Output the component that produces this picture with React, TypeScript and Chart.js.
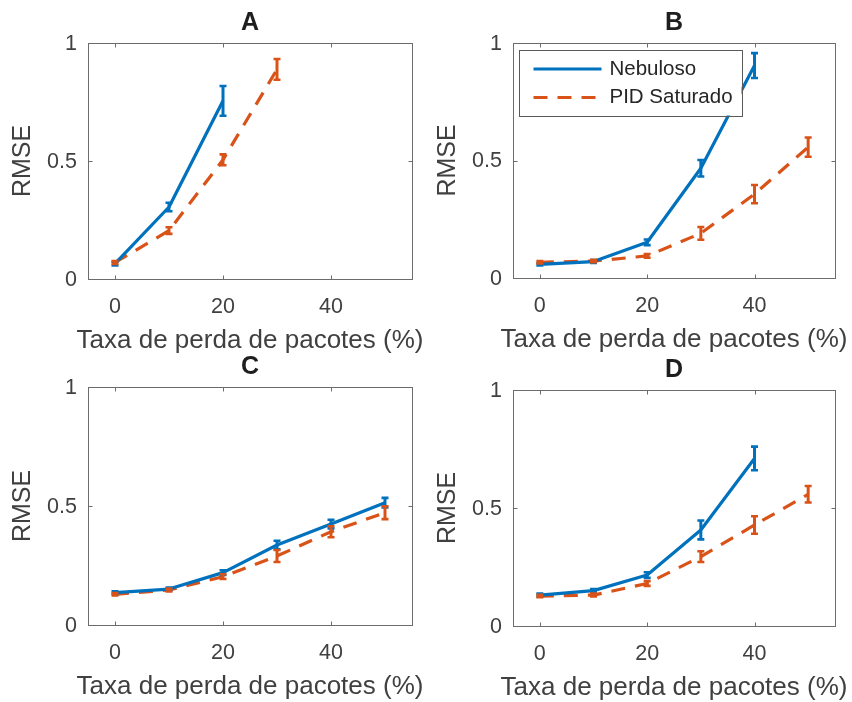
import React, { useEffect, useRef } from 'react';
import { Chart, registerables } from 'chart.js';

Chart.register(...registerables);

// Packet-loss rates (%) on the horizontal axis
const lossRates = [0, 10, 20, 30, 40, 50];
const xTicks = [0, 20, 40];
const xTickLabels = ['0', '20', '40'];
const yTicks = [0, 0.5, 1];
const yTickLabels = ['0', '0.5', '1'];
const seriesNames = ['Nebuloso', 'PID Saturado'];
const panelTitles = ['A', 'B', 'C', 'D'];

// Panel A
const fuzzyA = [0.065, 0.305, 0.755];
const fuzzyErrA = [0.008, 0.018, 0.063];
const pidA = [0.07, 0.205, 0.505, 0.888];
const pidErrA = [0.006, 0.014, 0.023, 0.044];

// Panel B
const fuzzyB = [0.058, 0.07, 0.152, 0.467, 0.904];
const fuzzyErrB = [0.005, 0.006, 0.012, 0.035, 0.053];
const pidB = [0.067, 0.072, 0.094, 0.19, 0.357, 0.557];
const pidErrB = [0.005, 0.005, 0.008, 0.027, 0.039, 0.041];

// Panel C
const fuzzyC = [0.136, 0.151, 0.22, 0.336, 0.424, 0.514];
const fuzzyErrC = [0.006, 0.006, 0.01, 0.018, 0.018, 0.02];
const pidC = [0.129, 0.147, 0.203, 0.29, 0.392, 0.472];
const pidErrC = [0.005, 0.006, 0.01, 0.025, 0.023, 0.027];

// Panel D
const fuzzyD = [0.131, 0.15, 0.216, 0.407, 0.71];
const fuzzyErrD = [0.006, 0.007, 0.012, 0.04, 0.05];
const pidD = [0.127, 0.131, 0.18, 0.294, 0.428, 0.558];
const pidErrD = [0.005, 0.006, 0.01, 0.023, 0.037, 0.035];

const BLUE = '#0072BD';
const ORANGE = '#D95319';
const FONT = '"Liberation Sans", Arial, Helvetica, sans-serif';
const TEXT = '#404040';
const AXIS = '#6c6c6c';
const LINE_W = 3.2;

type Pad = { left: number; right: number; top: number; bottom: number };

function makeAxesPlugin(title: string, errs: number[][], showLegend: boolean) {
  return {
    id: 'matlabAxes' + title,
    afterDatasetsDraw(chart: any) {
      const { ctx, chartArea } = chart;
      const { left, right, top, bottom } = chartArea;
      const xs = chart.scales.x;
      const ys = chart.scales.y;

      // error bars
      chart.data.datasets.forEach((ds: any, di: number) => {
        const e = errs[di];
        ctx.save();
        ctx.strokeStyle = ds.borderColor;
        ctx.setLineDash([]);
        ds.data.forEach((p: any, i: number) => {
          const px = xs.getPixelForValue(p.x);
          const y1 = ys.getPixelForValue(p.y + e[i]);
          const y2 = ys.getPixelForValue(p.y - e[i]);
          ctx.lineWidth = 3;
          ctx.beginPath();
          ctx.moveTo(px, y1);
          ctx.lineTo(px, y2);
          ctx.stroke();
          ctx.lineWidth = 2.6;
          ctx.beginPath();
          ctx.moveTo(px - 3.5, y1);
          ctx.lineTo(px + 3.5, y1);
          ctx.moveTo(px - 3.5, y2);
          ctx.lineTo(px + 3.5, y2);
          ctx.stroke();
        });
        ctx.restore();
      });

      // axes box with inward ticks
      ctx.save();
      ctx.strokeStyle = AXIS;
      ctx.lineWidth = 1;
      ctx.setLineDash([]);
      const L = Math.round(left) + 0.5;
      const R = Math.round(right) + 0.5;
      const T = Math.round(top) + 0.5;
      const B = Math.round(bottom) + 0.5;
      ctx.strokeRect(L, T, R - L, B - T);
      ctx.beginPath();
      xTicks.forEach((v) => {
        const px = Math.round(xs.getPixelForValue(v)) + 0.5;
        ctx.moveTo(px, B);
        ctx.lineTo(px, B - 4);
        ctx.moveTo(px, T);
        ctx.lineTo(px, T + 4);
      });
      yTicks.forEach((v) => {
        const py = Math.round(ys.getPixelForValue(v)) + 0.5;
        ctx.moveTo(L, py);
        ctx.lineTo(L + 4, py);
        ctx.moveTo(R, py);
        ctx.lineTo(R - 4, py);
      });
      ctx.stroke();
      ctx.restore();

      // legend
      if (showLegend) {
        const bx = left + 5.5;
        const by = top + 6.5;
        const bw = 223;
        const bh = 66;
        ctx.save();
        ctx.fillStyle = '#ffffff';
        ctx.fillRect(bx, by, bw, bh);
        ctx.strokeStyle = '#5a5a5a';
        ctx.lineWidth = 1;
        ctx.strokeRect(Math.round(bx) + 0.5, Math.round(by) + 0.5, bw, bh);
        const rows = [by + 19.5, by + 48];
        chart.data.datasets.forEach((ds: any, di: number) => {
          ctx.strokeStyle = ds.borderColor;
          ctx.lineWidth = LINE_W;
          ctx.setLineDash(ds.borderDash || []);
          ctx.beginPath();
          ctx.moveTo(bx + 15, rows[di]);
          ctx.lineTo(bx + 83, rows[di]);
          ctx.stroke();
          ctx.setLineDash([]);
          ctx.fillStyle = '#262626';
          ctx.font = `20.5px ${FONT}`;
          ctx.textAlign = 'left';
          ctx.textBaseline = 'middle';
          ctx.fillText(ds.label, bx + 91, rows[di]);
        });
        ctx.restore();
      }
    },
    afterDraw(chart: any) {
      const { ctx, chartArea } = chart;
      const { left, right, top, bottom } = chartArea;
      const xs = chart.scales.x;
      const ys = chart.scales.y;
      const cx = (left + right) / 2;
      ctx.save();
      ctx.fillStyle = TEXT;
      ctx.font = `21.5px ${FONT}`;
      ctx.textBaseline = 'middle';
      ctx.textAlign = 'right';
      yTicks.forEach((v, i) => ctx.fillText(yTickLabels[i], left - 11, ys.getPixelForValue(v) + 1));
      ctx.textAlign = 'center';
      xTicks.forEach((v, i) => ctx.fillText(xTickLabels[i], xs.getPixelForValue(v), bottom + 28.5));

      ctx.font = `26px ${FONT}`;
      ctx.fillText('Taxa de perda de pacotes (%)', cx, bottom + 62);
      ctx.font = `25px ${FONT}`;
      ctx.save();
      ctx.translate(left - 64.5, (top + bottom) / 2);
      ctx.rotate(-Math.PI / 2);
      ctx.fillText('RMSE', 0, 0);
      ctx.restore();

      ctx.fillStyle = '#1e1e1e';
      ctx.font = `bold 25px ${FONT}`;
      ctx.fillText(title, cx, top - 19.5);
      ctx.restore();
    },
  };
}

type PanelProps = {
  title: string;
  fuzzy: number[];
  fuzzyErr: number[];
  pid: number[];
  pidErr: number[];
  showLegend: boolean;
  x: number;
  y: number;
  h: number;
  pad: Pad;
};

function Panel({ title, fuzzy, fuzzyErr, pid, pidErr, showLegend, x, y, h, pad }: PanelProps) {
  const ref = useRef<HTMLCanvasElement>(null);
  useEffect(() => {
    if (!ref.current) return;
    const toPoints = (vals: number[]) => vals.map((v, i) => ({ x: lossRates[i], y: v }));
    const chart = new Chart(ref.current, {
      type: 'line',
      data: {
        datasets: [
          {
            label: seriesNames[0],
            data: toPoints(fuzzy),
            borderColor: BLUE,
            borderWidth: LINE_W,
            pointRadius: 0,
            tension: 0,
            fill: false,
            borderJoinStyle: 'round',
          },
          {
            label: seriesNames[1],
            data: toPoints(pid),
            borderColor: ORANGE,
            borderWidth: LINE_W,
            borderDash: [14, 10],
            pointRadius: 0,
            tension: 0,
            fill: false,
            borderJoinStyle: 'round',
          },
        ],
      },
      options: {
        responsive: false,
        animation: false,
        events: [],
        layout: { padding: pad },
        scales: {
          x: { type: 'linear', min: -5, max: 55, display: false },
          y: { type: 'linear', min: 0, max: 1, display: false },
        },
        plugins: { legend: { display: false }, tooltip: { enabled: false }, title: { display: false } },
      } as any,
      plugins: [makeAxesPlugin(title, [fuzzyErr, pidErr], showLegend)],
    });
    return () => chart.destroy();
  }, []);
  return (
    <canvas
      ref={ref}
      width={426}
      height={h}
      style={{ position: 'absolute', left: x, top: y, width: 426, height: h, display: 'block' }}
    />
  );
}

export default function App() {
  return (
    <div style={{ position: 'absolute', left: 0, top: 0, width: 852, height: 702, background: '#ffffff' }}>
      <Panel title={panelTitles[0]} fuzzy={fuzzyA} fuzzyErr={fuzzyErrA} pid={pidA} pidErr={pidErrA}
        showLegend={false} x={0} y={0} h={362} pad={{ left: 88, right: 14, top: 43, bottom: 83 }} />
      <Panel title={panelTitles[1]} fuzzy={fuzzyB} fuzzyErr={fuzzyErrB} pid={pidB} pidErr={pidErrB}
        showLegend={true} x={426} y={0} h={362} pad={{ left: 87, right: 17, top: 43, bottom: 84 }} />
      <Panel title={panelTitles[2]} fuzzy={fuzzyC} fuzzyErr={fuzzyErrC} pid={pidC} pidErr={pidErrC}
        showLegend={false} x={0} y={351} h={351} pad={{ left: 88, right: 14, top: 36, bottom: 77 }} />
      <Panel title={panelTitles[3]} fuzzy={fuzzyD} fuzzyErr={fuzzyErrD} pid={pidD} pidErr={pidErrD}
        showLegend={false} x={426} y={351} h={351} pad={{ left: 87, right: 17, top: 39, bottom: 76 }} />
    </div>
  );
}
